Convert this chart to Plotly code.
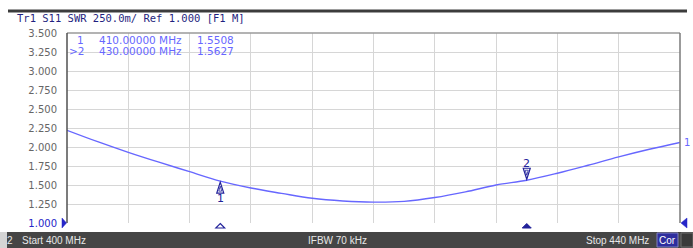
import plotly.graph_objects as go

# ---------------- data ----------------
freq_mhz = [400, 402, 404, 406, 408, 410, 412, 414, 416, 418, 420,
            422, 424, 426, 428, 430, 432, 434, 436, 438, 440]
swr = [2.22, 2.07, 1.93, 1.80, 1.675, 1.5508, 1.46, 1.39, 1.325, 1.29, 1.275,
       1.285, 1.335, 1.41, 1.50, 1.5627, 1.655, 1.76, 1.87, 1.97, 2.06]

marker_ids = ["1", "2"]
marker_freq = [410.0, 430.0]
marker_val = [1.5508, 1.5627]

y_ticks = [1.0, 1.25, 1.5, 1.75, 2.0, 2.25, 2.5, 2.75, 3.0, 3.25, 3.5]
x_grid_step = 4

title_text = "Tr1 S11 SWR 250.0m/ Ref 1.000 [F1 M]"
status_start = "Start 400 MHz"
status_ifbw = "IFBW 70 kHz"
status_stop = "Stop 440 MHz"

# ---------------- geometry ----------------
W, H = 693, 248
L, R, T, B = 67, 13, 33, 25
PW, PH = W - L - R, H - T - B


def px(x):
    return (x - L) / PW


def py(y):
    return (H - B - y) / PH


Y_PER_PX = (y_ticks[-1] - y_ticks[0]) / PH
X_PER_PX = (freq_mhz[-1] - freq_mhz[0]) / PW
PAPER_Y_PER_PX = 1.0 / PH
PAPER_X_PER_PX = 1.0 / PW

TRACE = "#6767ff"
MK = "#22229a"
NAVY = "#1f1f80"
REFBLUE = "#2626c8"


def tri_path(xc, yc, pts, xs, ys):
    """Closed polygon path around (xc, yc); pts given as pixel offsets (dx, dy up)."""
    coords = [f"{xc + dx * xs},{yc + dy * ys}" for dx, dy in pts]
    return "M" + " L".join(coords) + " Z"


fig = go.Figure()

fig.add_trace(go.Scatter(x=freq_mhz, y=swr, mode="lines",
                         line=dict(color=TRACE, width=1.4, shape="spline"),
                         hoverinfo="skip", showlegend=False))

ticktext = []
for v in y_ticks:
    s = f"{v:.3f}"
    if v == y_ticks[0]:
        s = f"<span style='fill:{REFBLUE}'>{s}</span>"
    ticktext.append(s)

fig.update_xaxes(range=[freq_mhz[0], freq_mhz[-1]], dtick=x_grid_step, tick0=freq_mhz[0],
                 showticklabels=False, showgrid=True, gridcolor="#d6d6d6", gridwidth=1,
                 zeroline=False, showline=False, ticks="")
fig.update_yaxes(range=[y_ticks[0], y_ticks[-1]], tickvals=y_ticks, ticktext=ticktext,
                 showgrid=True, gridcolor="#d6d6d6", gridwidth=1, zeroline=False,
                 showline=False, ticks="", ticklabelstandoff=9,
                 tickfont=dict(family="DejaVu Sans", size=10, color="#666666"))

shapes = [
    # plot borders
    dict(type="line", xref="paper", yref="paper", x0=0, x1=1, y0=1, y1=1,
         line=dict(color="#9a9a9a", width=1.5)),
    dict(type="line", xref="paper", yref="paper", x0=1, x1=1, y0=0, y1=1,
         line=dict(color="#7a7a7a", width=1.5)),
    dict(type="line", xref="paper", yref="paper", x0=0, x1=0, y0=0, y1=1,
         line=dict(color="#505050", width=1.5)),
    # top dark rule
    dict(type="rect", xref="paper", yref="paper", x0=px(8), x1=px(687),
         y0=py(12.5), y1=py(9.5), fillcolor="#3c3c3c", line=dict(width=0), layer="above"),
    # status bar
    dict(type="rect", xref="paper", yref="paper", x0=px(0), x1=px(7),
         y0=py(248), y1=py(232), fillcolor="#d4d4d4", line=dict(width=0)),
    dict(type="rect", xref="paper", yref="paper", x0=px(7), x1=px(693),
         y0=py(248), y1=py(232), fillcolor="#454545", line=dict(width=0)),
    dict(type="rect", xref="paper", yref="paper", x0=px(657), x1=px(678),
         y0=py(247), y1=py(233), fillcolor="#2e2e9e",
         line=dict(width=1, color="#8080c0")),
    dict(type="rect", xref="paper", yref="paper", x0=px(681), x1=px(693),
         y0=py(247), y1=py(233), fillcolor="#3a3a3a",
         line=dict(width=1, color="#707070")),
]

# marker symbols on trace (tall narrow triangles)
shapes.append(dict(type="path", xref="x", yref="y", layer="above",
                   path=tri_path(marker_freq[0], marker_val[0],
                                 [(0, -1), (3.5, -12), (-3.5, -12)], X_PER_PX, Y_PER_PX),
                   line=dict(color=MK, width=1.2), fillcolor="rgba(255,255,255,0.9)"))
shapes.append(dict(type="path", xref="x", yref="y", layer="above",
                   path=tri_path(marker_freq[0], marker_val[0],
                                 [(0, -5), (1.5, -10), (-1.5, -10)], X_PER_PX, Y_PER_PX),
                   line=dict(color=MK, width=0.8)))
shapes.append(dict(type="path", xref="x", yref="y", layer="above",
                   path=tri_path(marker_freq[1], marker_val[1],
                                 [(0, 1), (3.5, 12), (-3.5, 12)], X_PER_PX, Y_PER_PX),
                   line=dict(color=MK, width=1.2), fillcolor="rgba(255,255,255,0.9)"))
shapes.append(dict(type="path", xref="x", yref="y", layer="above",
                   path=tri_path(marker_freq[1], marker_val[1],
                                 [(0, 5), (1.5, 10), (-1.5, 10)], X_PER_PX, Y_PER_PX),
                   line=dict(color=MK, width=0.8)))

# bottom marker indicators (below the plot area)
shapes.append(dict(type="path", xref="x", yref="paper", layer="above",
                   path=tri_path(marker_freq[0], 0,
                                 [(0, -0.5), (4.5, -5), (-4.5, -5)], X_PER_PX, PAPER_Y_PER_PX),
                   line=dict(color=MK, width=1.1), fillcolor="white"))
shapes.append(dict(type="path", xref="x", yref="paper", layer="above",
                   path=tri_path(marker_freq[1], 0,
                                 [(0, -0.5), (4.5, -5), (-4.5, -5)], X_PER_PX, PAPER_Y_PER_PX),
                   line=dict(color=MK, width=1), fillcolor=MK))

# reference level arrows at 1.000 (left and right edges of the grid)
shapes.append(dict(type="path", xref="paper", yref="paper", layer="above",
                   path=tri_path(0, 0, [(-0.5, 0), (-5, 5), (-5, -5)],
                                 PAPER_X_PER_PX, PAPER_Y_PER_PX),
                   line=dict(color=REFBLUE, width=0.5), fillcolor=REFBLUE))
shapes.append(dict(type="path", xref="paper", yref="paper", layer="above",
                   path=tri_path(1, 0, [(1, 0), (7, 5), (7, -5)],
                                 PAPER_X_PER_PX, PAPER_Y_PER_PX),
                   line=dict(color=REFBLUE, width=0.5), fillcolor=REFBLUE))

ann = [
    dict(text=title_text, x=px(15), y=py(18), xanchor="left", yanchor="middle",
         font=dict(family="DejaVu Sans Mono", size=10.5, color=NAVY)),
    # marker table
    dict(text=marker_ids[0], x=px(86), y=py(40), xanchor="right", yanchor="middle",
         font=dict(family="DejaVu Sans", size=10.5, color=TRACE)),
    dict(text=">" + marker_ids[1], x=px(86), y=py(51), xanchor="right", yanchor="middle",
         font=dict(family="DejaVu Sans", size=10.5, color=TRACE)),
    dict(text=f"{marker_freq[0]:.5f} MHz", x=px(97), y=py(40), xanchor="left", yanchor="middle",
         font=dict(family="DejaVu Sans", size=10.5, color=TRACE)),
    dict(text=f"{marker_freq[1]:.5f} MHz", x=px(97), y=py(51), xanchor="left", yanchor="middle",
         font=dict(family="DejaVu Sans", size=10.5, color=TRACE)),
    dict(text=f"{marker_val[0]:.4f}", x=px(195), y=py(40), xanchor="left", yanchor="middle",
         font=dict(family="DejaVu Sans", size=10.5, color=TRACE)),
    dict(text=f"{marker_val[1]:.4f}", x=px(195), y=py(51), xanchor="left", yanchor="middle",
         font=dict(family="DejaVu Sans", size=10.5, color=TRACE)),
    # status bar text
    dict(text="2", x=px(10), y=py(240.5), xanchor="center", yanchor="middle",
         font=dict(family="Liberation Sans", size=10, color="#e8e8e8")),
    dict(text=status_start, x=px(20), y=py(240.5), xanchor="left", yanchor="middle",
         font=dict(family="Liberation Sans", size=10, color="#e8e8e8")),
    dict(text=status_ifbw, x=px(306), y=py(240.5), xanchor="left", yanchor="middle",
         font=dict(family="Liberation Sans", size=10, color="#e8e8e8")),
    dict(text=status_stop, x=px(651), y=py(240.5), xanchor="right", yanchor="middle",
         font=dict(family="Liberation Sans", size=10, color="#e8e8e8")),
    dict(text="Cor", x=px(667.5), y=py(240.5), xanchor="center", yanchor="middle",
         font=dict(family="Liberation Sans", size=10, color="#ffffff")),
]
for a in ann:
    a.update(xref="paper", yref="paper", showarrow=False)

# marker number labels and trace-end label, in data coordinates
ann += [
    dict(text=marker_ids[0], x=marker_freq[0], y=marker_val[0], xref="x", yref="y",
         yshift=-17, showarrow=False, xanchor="center", yanchor="middle",
         font=dict(family="DejaVu Sans", size=11, color=MK)),
    dict(text=marker_ids[1], x=marker_freq[1], y=marker_val[1], xref="x", yref="y",
         yshift=17, showarrow=False, xanchor="center", yanchor="middle",
         font=dict(family="DejaVu Sans", size=11, color=MK)),
    dict(text="1", x=freq_mhz[-1], y=swr[-1], xref="x", yref="y",
         xshift=2, showarrow=False, xanchor="left", yanchor="middle",
         font=dict(family="DejaVu Sans", size=10, color=TRACE)),
]

fig.update_layout(width=W, height=H, margin=dict(l=L, r=R, t=T, b=B),
                  plot_bgcolor="white", paper_bgcolor="white",
                  shapes=shapes, annotations=ann, showlegend=False)

fig.write_html("out.html", config={"displayModeBar": False},
               post_script="document.body.style.margin='0';document.body.style.overflow='hidden';")
